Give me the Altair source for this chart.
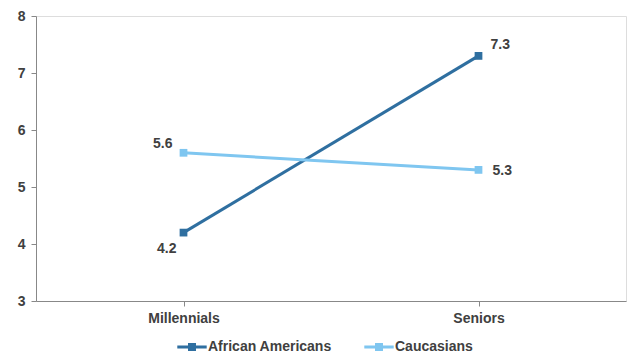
import altair as alt
import pandas as pd

categories = ["Millennials", "Seniors"]
series = ["African Americans", "Caucasians"]
african_americans = [4.2, 7.3]
caucasians = [5.6, 5.3]
colors = ["#2F6FA0", "#7FC6F0"]

rows = []
for c, v in zip(categories, african_americans):
    rows.append({"cat": c, "series": series[0], "value": v})
for c, v in zip(categories, caucasians):
    rows.append({"cat": c, "series": series[1], "value": v})
df = pd.DataFrame(rows)

FONT = "Liberation Sans"
TXT = "#404040"
FS = 14

x = alt.X("cat:N", sort=categories, title=None,
          scale=alt.Scale(paddingInner=0, paddingOuter=0),
          axis=alt.Axis(labelAngle=0, bandPosition=0, ticks=True, tickSize=5,
                        labelFontSize=FS, labelFontWeight="bold", labelColor=TXT,
                        labelFont=FONT, labelPadding=5, domainColor="#888888",
                        tickColor="#888888", grid=False))
y = alt.Y("value:Q", title=None,
          scale=alt.Scale(domain=[3, 8], nice=False, zero=False),
          axis=alt.Axis(values=[3, 4, 5, 6, 7, 8], format="d", tickSize=5,
                        labelFontSize=FS, labelFontWeight="bold", labelColor=TXT,
                        labelFont=FONT, labelPadding=6, domainColor="#888888",
                        tickColor="#888888", grid=False))
color_scale = alt.Scale(domain=series, range=colors)

legend_path = ("M-2.1,-0.21 L2.1,-0.21 L2.1,0.21 L-2.1,0.21 Z "
               "M-0.57,-0.57 L0.57,-0.57 L0.57,0.57 L-0.57,0.57 Z")
legend = alt.Legend(title=None, orient="none", direction="horizontal",
                    legendX=149, legendY=324,
                    symbolType=legend_path, symbolSize=196,
                    symbolStrokeWidth=0, symbolOpacity=1,
                    labelFontSize=FS, labelFontWeight="bold",
                    labelColor=TXT, labelFont=FONT,
                    labelOffset=9, columnPadding=32)
color = alt.Color("series:N", scale=color_scale, sort=series, legend=legend)

base = alt.Chart(df)

points = base.mark_square(size=60, opacity=1).encode(x=x, y=y, color=color)
lines = base.mark_line(strokeWidth=3).encode(x=x, y=y, color=color)

def label(series_name, cat, align, dx, dy):
    return base.transform_filter(
        (alt.datum.series == series_name) & (alt.datum.cat == cat)
    ).mark_text(align=align, baseline="middle", dx=dx, dy=dy, fontSize=FS,
                fontWeight="bold", font=FONT, color=TXT).encode(
        x=x, y=y, text=alt.Text("value:Q", format=".1f"))

labels = [
    label(series[0], categories[0], "right", -7, 16),
    label(series[1], categories[0], "right", -11, -9),
    label(series[0], categories[1], "left", 12, -11),
    label(series[1], categories[1], "left", 14, 1),
]

chart = alt.layer(points, lines, *labels).properties(
    width=590, height=285,
    autosize=alt.AutoSizeParams(type="none"),
    padding={"left": 28, "top": 8, "right": 6, "bottom": 55},
).configure_view(stroke=None).configure(background="white")

chart.save("out.html", embed_options={"renderer": "svg", "actions": False})
